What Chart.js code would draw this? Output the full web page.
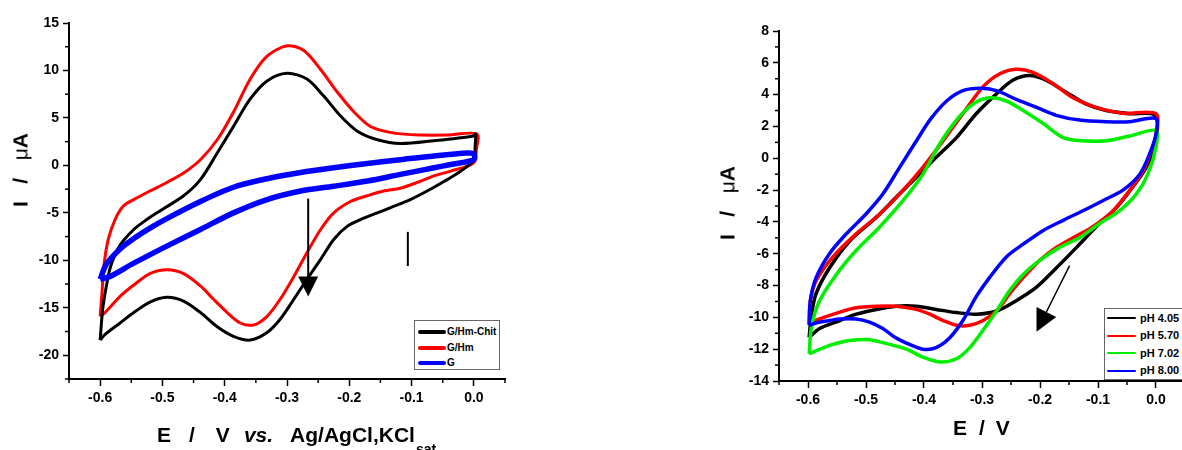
<!DOCTYPE html>
<html>
<head>
<meta charset="utf-8">
<script src="https://cdn.jsdelivr.net/npm/chart.js@4.4.1/dist/chart.umd.min.js"></script>
<style>
  html, body { margin: 0; padding: 0; background: #fff; overflow: hidden; }
  body { width: 1182px; height: 450px; position: relative; font-family: "Liberation Sans", Arial, sans-serif; }
  .box { position: absolute; }
  .title { position: absolute; font-weight: bold; font-size: 21px; line-height: 21px; white-space: pre; color: #000; }
  .ytitle { transform: translate(-50%, -50%) rotate(-90deg); }
  .mu { font-weight: normal; }
  .legend { position: absolute; border: 1px solid #666; background: #fff; }
  .legend .row { position: absolute; left: 0; white-space: nowrap; font-weight: bold; color: #000; }
  .legend .swatch { position: absolute; }
</style>
</head>
<body>
<div class="box" style="left:0;top:0;width:520px;height:450px;"><canvas id="leftChart"></canvas></div>
<div class="box" style="left:700px;top:0;width:500px;height:450px;"><canvas id="rightChart"></canvas></div>

<div class="title ytitle" style="left:20px;top:170px;">I   /   <span class="mu">μ</span>A</div>
<div class="title" style="left:157px;top:424px;">E<span style="margin-left:18px">/</span><span style="margin-left:21px">V</span><span style="margin-left:14px;font-style:italic">vs.</span><span style="margin-left:17px">Ag/AgCl,KCl</span><span style="font-size:14px;position:relative;top:12px;margin-left:1px">sat</span></div>

<div class="title ytitle" style="left:727px;top:203px;">I   /   <span class="mu">μ</span>A</div>
<div class="title" style="left:953px;top:417px;">E<span style="margin-left:12px">/</span><span style="margin-left:11px">V</span></div>

<div class="legend" id="leftLegend" style="left:414px;top:320px;width:84px;height:48px;"></div>
<div class="legend" id="rightLegend" style="left:1104px;top:308px;width:100px;height:70px;"></div>

<script>
// Fig. A: CV of modified electrodes (E / V, I / uA)
const gHmChit = [
  [-0.6,-18.4],[-0.596,-15.2],[-0.59,-12.7],[-0.583,-10.6],[-0.569,-8.5],[-0.546,-6.75],[-0.525,-5.7],
  [-0.504,-4.8],[-0.466,-3.2],[-0.439,-1.5],[-0.412,1.3],[-0.386,4.1],[-0.359,7.0],[-0.332,8.9],
  [-0.3,9.7],[-0.268,9.1],[-0.241,7.3],[-0.214,5.2],[-0.187,3.6],[-0.155,2.7],[-0.118,2.3],
  [-0.064,2.6],[0.0,3.1],[0.003,3.3],[0.002,2.0],[0.0,0.6],[-0.021,-0.6],[-0.048,-1.7],[-0.075,-2.7],
  [-0.102,-3.6],[-0.128,-4.3],[-0.155,-5.0],[-0.182,-5.7],[-0.203,-6.4],[-0.225,-7.8],[-0.246,-9.9],
  [-0.268,-12.0],[-0.289,-14.1],[-0.311,-16.2],[-0.332,-17.6],[-0.359,-18.4],[-0.386,-18.0],
  [-0.412,-17.0],[-0.439,-15.5],[-0.466,-14.3],[-0.493,-13.9],[-0.52,-14.4],[-0.546,-15.5],
  [-0.568,-16.6],[-0.592,-17.8],[-0.6,-18.4]
];
const gHm = [
  [-0.6,-15.9],[-0.597,-13.4],[-0.594,-10.6],[-0.587,-7.8],[-0.576,-5.7],[-0.563,-4.3],[-0.546,-3.6],
  [-0.52,-2.7],[-0.493,-1.8],[-0.466,-0.8],[-0.439,0.6],[-0.412,2.7],[-0.386,5.6],[-0.359,9.1],
  [-0.332,11.5],[-0.3,12.6],[-0.273,12.1],[-0.246,10.1],[-0.219,7.7],[-0.192,5.6],[-0.166,4.1],
  [-0.128,3.4],[-0.085,3.2],[-0.043,3.2],[0.005,3.3],[0.004,1.7],[0.0,0.3],[-0.037,-0.6],
  [-0.064,-1.1],[-0.091,-1.8],[-0.118,-2.4],[-0.145,-2.7],[-0.171,-3.2],[-0.198,-3.8],[-0.225,-5.0],
  [-0.246,-6.75],[-0.268,-9.2],[-0.289,-11.7],[-0.311,-14.1],[-0.332,-15.9],[-0.353,-16.8],
  [-0.375,-16.6],[-0.396,-15.5],[-0.418,-14.1],[-0.439,-12.7],[-0.466,-11.4],[-0.493,-11.0],
  [-0.52,-11.4],[-0.546,-12.6],[-0.568,-13.8],[-0.592,-15.5],[-0.6,-15.9]
];
const gBare = [
  [-0.6,-12.0],[-0.59,-10.4],[-0.568,-8.8],[-0.546,-7.7],[-0.52,-6.6],[-0.493,-5.6],[-0.439,-3.8],
  [-0.386,-2.3],[-0.332,-1.4],[-0.278,-0.75],[-0.225,-0.25],[-0.171,0.2],[-0.118,0.6],[-0.064,1.0],
  [-0.01,1.3],[0.0,1.2],[0.0,0.6],[-0.037,0.1],[-0.064,-0.25],[-0.118,-0.95],[-0.171,-1.65],
  [-0.225,-2.2],[-0.278,-2.7],[-0.332,-3.6],[-0.386,-5.0],[-0.439,-6.75],[-0.493,-8.5],
  [-0.546,-10.3],[-0.584,-11.7],[-0.6,-12.0]
];
const leftNames = ['G/Hm-Chit', 'G/Hm', 'G'];
const leftColors = ['#000000', '#ff0000', '#0000ff'];

// Fig. B: CV at different pH
const ph405 = [
  [-0.598,-11.26],[-0.594,-9.8],[-0.586,-8.5],[-0.563,-6.9],[-0.528,-5.2],[-0.482,-3.7],[-0.448,-2.45],
  [-0.413,-1.2],[-0.379,0.06],[-0.344,1.3],[-0.31,2.8],[-0.275,4.05],[-0.247,4.9],[-0.218,5.2],
  [-0.189,4.9],[-0.155,4.15],[-0.12,3.4],[-0.086,3.0],[-0.045,2.8],[-0.002,2.7],[0.0,1.1],
  [-0.017,-0.57],[-0.04,-1.8],[-0.068,-3.1],[-0.103,-4.3],[-0.137,-5.6],[-0.172,-6.9],[-0.206,-8.1],
  [-0.241,-8.95],[-0.275,-9.6],[-0.31,-9.8],[-0.344,-9.7],[-0.379,-9.5],[-0.413,-9.3],[-0.448,-9.3],
  [-0.482,-9.5],[-0.517,-9.8],[-0.545,-10.2],[-0.58,-10.7],[-0.598,-11.26]
];
const ph570 = [
  [-0.598,-10.4],[-0.596,-8.95],[-0.586,-7.7],[-0.557,-6.2],[-0.517,-4.75],[-0.476,-3.5],[-0.436,-2.0],
  [-0.402,-0.57],[-0.367,1.1],[-0.333,2.8],[-0.298,4.5],[-0.27,5.3],[-0.241,5.6],[-0.212,5.4],
  [-0.178,4.7],[-0.143,3.8],[-0.103,3.2],[-0.057,2.83],[0.0,2.8],[0.0,1.5],[-0.008,0.5],
  [-0.022,-0.78],[-0.045,-2.0],[-0.074,-3.3],[-0.109,-4.3],[-0.143,-5.0],[-0.172,-5.6],[-0.2,-6.4],
  [-0.229,-7.5],[-0.252,-8.5],[-0.275,-9.6],[-0.298,-10.2],[-0.321,-10.5],[-0.344,-10.5],
  [-0.367,-10.2],[-0.39,-9.8],[-0.413,-9.5],[-0.448,-9.3],[-0.482,-9.3],[-0.517,-9.4],
  [-0.545,-9.67],[-0.58,-10.1],[-0.598,-10.4]
];
const ph702 = [
  [-0.598,-12.3],[-0.594,-10.6],[-0.58,-8.95],[-0.551,-7.3],[-0.517,-5.8],[-0.476,-4.3],[-0.436,-2.65],
  [-0.402,-1.0],[-0.373,0.9],[-0.344,2.4],[-0.316,3.4],[-0.287,3.8],[-0.258,3.6],[-0.229,3.0],
  [-0.195,2.2],[-0.16,1.3],[-0.126,1.1],[-0.086,1.1],[-0.045,1.4],[0.0,1.75],[0.0,0.7],
  [-0.014,-1.0],[-0.034,-2.25],[-0.063,-3.3],[-0.097,-4.1],[-0.132,-5.0],[-0.166,-5.6],[-0.2,-6.4],
  [-0.229,-7.3],[-0.252,-8.3],[-0.275,-9.6],[-0.298,-10.8],[-0.321,-11.9],[-0.344,-12.6],
  [-0.373,-12.8],[-0.402,-12.5],[-0.43,-12.0],[-0.459,-11.7],[-0.494,-11.4],[-0.528,-11.45],
  [-0.557,-11.7],[-0.586,-12.1],[-0.598,-12.3]
];
const ph800 = [
  [-0.598,-10.5],[-0.596,-8.95],[-0.586,-7.5],[-0.563,-6.0],[-0.534,-4.75],[-0.5,-3.5],[-0.471,-2.25],
  [-0.442,-0.57],[-0.413,1.1],[-0.39,2.4],[-0.361,3.6],[-0.333,4.25],[-0.304,4.4],[-0.275,4.25],
  [-0.241,3.7],[-0.206,3.2],[-0.172,2.7],[-0.132,2.4],[-0.086,2.3],[-0.045,2.3],[0.0,2.5],[0.0,1.5],
  [-0.011,0.27],[-0.028,-1.0],[-0.057,-2.0],[-0.091,-2.65],[-0.126,-3.3],[-0.16,-3.9],[-0.195,-4.55],
  [-0.229,-5.4],[-0.258,-6.2],[-0.287,-7.5],[-0.31,-8.7],[-0.333,-10.2],[-0.356,-11.3],
  [-0.379,-11.9],[-0.402,-12.0],[-0.425,-11.7],[-0.448,-11.3],[-0.471,-10.7],[-0.494,-10.3],
  [-0.517,-10.1],[-0.545,-10.1],[-0.563,-10.2],[-0.586,-10.35],[-0.598,-10.5]
];
const rightNames = ['pH 4.05', 'pH 5.70', 'pH 7.02', 'pH 8.00'];
const rightColors = ['#000000', '#ff0000', '#00ee00', '#0000ff'];

// tick labels
const xTickLabels = [-0.6, -0.5, -0.4, -0.3, -0.2, -0.1, 0.0];
const leftYTickLabels = [15, 10, 5, 0, -5, -10, -15, -20];
const rightYTickLabels = [8, 6, 4, 2, 0, -2, -4, -6, -8, -10, -12, -14];

// annotation marks (data coords)
const leftArrow = [[-0.266, -3.5], [-0.266, -13.8]];
const leftBar = [[-0.106, -7.0], [-0.106, -10.6]];
const rightArrow = [[-0.149, -6.75], [-0.206, -10.9]];

const FONT = 'Liberation Sans, Arial, sans-serif';

function isIn(list, v) {
    return list.some(t => Math.abs(t - v) < 1e-6);
}

function toPts(arr) {
    return arr.map(p => ({ x: p[0], y: p[1] }));
}

// short minor ticks + arrows drawn through the chart scales
const extrasPlugin = {
    id: 'extras',
    afterDraw(chart, args, opts) {
        const c = chart.ctx;
        const xs = chart.scales.x, ys = chart.scales.y;
        c.save();
        c.strokeStyle = '#000';
        c.lineWidth = 1.5;
        xs.ticks.forEach(t => {
            if (isIn(opts.xMajor, t.value)) return;
            const px = xs.getPixelForValue(t.value);
            c.beginPath(); c.moveTo(px, xs.top); c.lineTo(px, xs.top + 4); c.stroke();
        });
        ys.ticks.forEach(t => {
            if (isIn(opts.yMajor, t.value)) return;
            const py = ys.getPixelForValue(t.value);
            c.beginPath(); c.moveTo(ys.right, py); c.lineTo(ys.right - 4, py); c.stroke();
        });
        (opts.bars || []).forEach(b => {
            c.lineWidth = 2;
            c.beginPath();
            c.moveTo(xs.getPixelForValue(b[0][0]), ys.getPixelForValue(b[0][1]));
            c.lineTo(xs.getPixelForValue(b[1][0]), ys.getPixelForValue(b[1][1]));
            c.stroke();
        });
        (opts.arrows || []).forEach(a => {
            const x0 = xs.getPixelForValue(a[0][0]), y0 = ys.getPixelForValue(a[0][1]);
            const x1 = xs.getPixelForValue(a[1][0]), y1 = ys.getPixelForValue(a[1][1]);
            const ang = Math.atan2(y1 - y0, x1 - x0);
            const hl = opts.headLen, hw = opts.headWidth / 2;
            const bx = x1 - hl * Math.cos(ang), by = y1 - hl * Math.sin(ang);
            c.lineWidth = opts.shaftWidth;
            c.beginPath(); c.moveTo(x0, y0); c.lineTo(bx, by); c.stroke();
            c.fillStyle = '#000';
            c.beginPath();
            c.moveTo(x1, y1);
            c.lineTo(bx + hw * Math.sin(ang), by - hw * Math.cos(ang));
            c.lineTo(bx - hw * Math.sin(ang), by + hw * Math.cos(ang));
            c.closePath();
            c.fill();
        });
        c.restore();
    }
};

function makeOptions(cfg) {
    return {
        responsive: true,
        maintainAspectRatio: false,
        animation: false,
        layout: { padding: cfg.padding },
        plugins: {
            legend: { display: false },
            tooltip: { enabled: false },
            extras: cfg.extras
        },
        elements: { point: { radius: 0 } },
        scales: {
            x: {
                type: 'linear',
                min: -0.65, max: 0.05,
                afterFit: s => { s.height = 30; },
                border: { color: '#000', width: 2 },
                grid: {
                    drawOnChartArea: false, tickLength: 7, tickWidth: 1.5,
                    tickColor: ctx => (ctx.tick && isIn(xTickLabels, ctx.tick.value)) ? '#000' : 'rgba(0,0,0,0)'
                },
                ticks: {
                    stepSize: 0.05, autoSkip: false, maxRotation: 0, padding: 4,
                    color: '#000', font: { family: FONT, size: 14, weight: 'bold' },
                    callback: v => isIn(xTickLabels, v) ? (Math.round(v * 10) / 10).toFixed(1) : ''
                }
            },
            y: {
                type: 'linear',
                min: cfg.yMin, max: cfg.yMax,
                afterFit: s => { s.width = cfg.yWidth; },
                border: { color: '#000', width: 2 },
                grid: {
                    drawOnChartArea: false, tickLength: 6, tickWidth: 1.5,
                    tickColor: ctx => (ctx.tick && isIn(cfg.yLabels, ctx.tick.value)) ? '#000' : 'rgba(0,0,0,0)'
                },
                ticks: {
                    stepSize: cfg.yStep, autoSkip: false, padding: 4,
                    color: '#000', font: { family: FONT, size: 14, weight: 'bold' },
                    callback: v => isIn(cfg.yLabels, v) ? String(Math.round(v)) : ''
                }
            }
        }
    };
}

const leftSeries = [gHmChit, gHm, gBare];
const leftWidths = [3, 3, 5.5];
new Chart(document.getElementById('leftChart'), {
    type: 'scatter',
    data: {
        datasets: leftSeries.map((s, i) => ({
            label: leftNames[i], data: toPts(s), showLine: true,
            borderColor: leftColors[i], borderWidth: leftWidths[i],
            tension: 0.3, pointRadius: 0, order: i === 2 ? 0 : i + 1
        }))
    },
    options: makeOptions({
        padding: { left: 0, top: 23, right: 15, bottom: 41 },
        yMin: -22.5, yMax: 15, yStep: 2.5, yLabels: leftYTickLabels, yWidth: 69,
        extras: { xMajor: xTickLabels, yMajor: leftYTickLabels, arrows: [leftArrow], bars: [leftBar],
                  headLen: 20, headWidth: 20, shaftWidth: 2 }
    }),
    plugins: [extrasPlugin]
});

const rightSeries = [ph405, ph570, ph702, ph800];
new Chart(document.getElementById('rightChart'), {
    type: 'scatter',
    data: {
        datasets: rightSeries.map((s, i) => ({
            label: rightNames[i], data: toPts(s), showLine: true,
            borderColor: rightColors[i], borderWidth: 3.5,
            tension: 0.3, pointRadius: 0, order: 4 - i
        }))
    },
    options: makeOptions({
        padding: { left: 0, top: 31, right: 15, bottom: 39 },
        yMin: -14, yMax: 8, yStep: 1, yLabels: rightYTickLabels, yWidth: 79,
        extras: { xMajor: xTickLabels, yMajor: rightYTickLabels, arrows: [rightArrow], bars: [],
                  headLen: 22, headWidth: 22, shaftWidth: 1.5 }
    }),
    plugins: [extrasPlugin]
});

// legends built from the series names / colours
function buildLegend(el, names, colors, cfg) {
    names.forEach((n, i) => {
        const row = document.createElement('div');
        row.className = 'row';
        row.style.top = (cfg.first + i * cfg.step - cfg.font / 2 - 1) + 'px';
        row.style.fontSize = cfg.font + 'px';
        row.style.lineHeight = (cfg.font + 2) + 'px';
        row.style.left = cfg.textLeft + 'px';
        row.textContent = n;
        const sw = document.createElement('div');
        sw.className = 'swatch';
        sw.style.left = cfg.swLeft + 'px';
        sw.style.width = cfg.swWidth + 'px';
        sw.style.height = cfg.swHeight + 'px';
        sw.style.top = (cfg.first + i * cfg.step - cfg.swHeight / 2) + 'px';
        sw.style.background = colors[i];
        sw.style.borderRadius = (cfg.swHeight / 2) + 'px';
        el.appendChild(sw);
        el.appendChild(row);
    });
}
buildLegend(document.getElementById('leftLegend'), leftNames, leftColors,
    { first: 11, step: 15.5, font: 10, textLeft: 32, swLeft: 3, swWidth: 28, swHeight: 4 });
buildLegend(document.getElementById('rightLegend'), rightNames, rightColors,
    { first: 9, step: 17.5, font: 11, textLeft: 35, swLeft: 2, swWidth: 29, swHeight: 2 });
</script>
</body>
</html>
